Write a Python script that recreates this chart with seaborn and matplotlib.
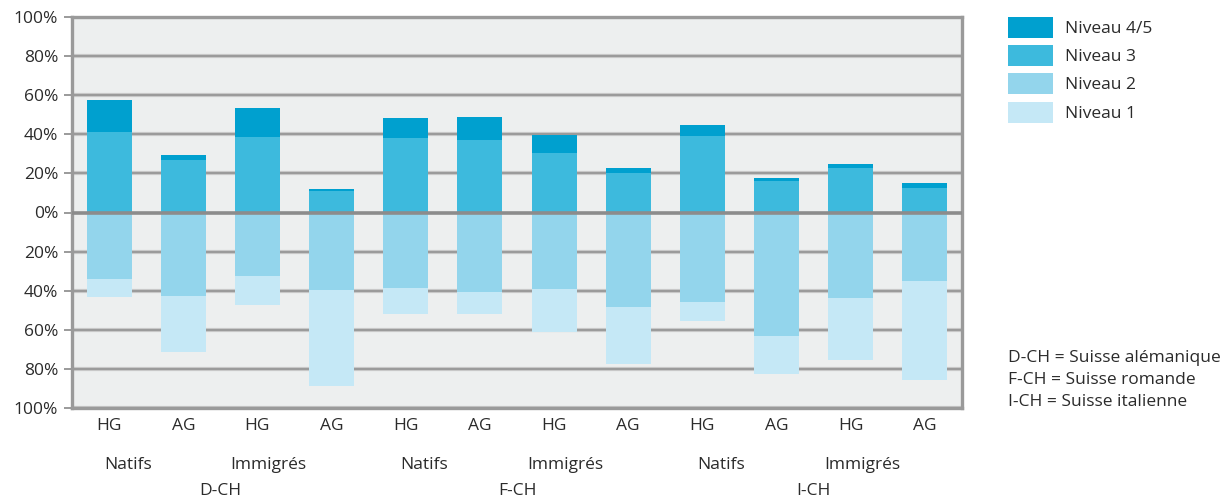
import matplotlib
matplotlib.use("Agg")
import matplotlib.pyplot as plt
from matplotlib.patches import Patch
import seaborn as sns
import pandas as pd
import numpy as np

# Share of each literacy level (%), per region / origin / school type
bar_labels = ["HG", "AG", "HG", "AG", "HG", "AG", "HG", "AG", "HG", "AG", "HG", "AG"]
origins = ["Natifs", "Immigrés"]
regions = ["D-CH", "F-CH", "I-CH"]

niveau_45 = [16.4, 2.5, 14.8, 1.0, 10.3, 11.8, 9.2, 2.6, 5.6, 2.0, 2.0, 2.6]
niveau_3 = [41.0, 26.7, 38.5, 10.8, 37.9, 36.9, 30.3, 20.0, 39.0, 15.9, 22.6, 12.3]
niveau_2 = [33.8, 42.6, 32.3, 39.5, 38.5, 40.5, 39.0, 48.2, 45.6, 63.1, 43.6, 34.9]
niveau_1 = [9.3, 28.5, 14.9, 49.2, 13.3, 11.3, 22.0, 29.2, 9.8, 19.5, 31.8, 50.7]

legend_labels = ["Niveau 4/5", "Niveau 3", "Niveau 2", "Niveau 1"]
colors = {"Niveau 4/5": "#00a0cf", "Niveau 3": "#3dbadd",
          "Niveau 2": "#93d5ec", "Niveau 1": "#c5e8f6"}
notes = ["D-CH = Suisse alémanique", "F-CH = Suisse romande", "I-CH = Suisse italienne"]

plt.rcParams["font.family"] = ["Open Sans", "DejaVu Sans"]
text_color = "#2b2b2b"
grid_color = "#9a9a9a"
fs = 12.5

pos = [str(i) for i in range(len(bar_labels))]
df = pd.DataFrame({
    "pos": pos,
    "up_total": np.array(niveau_3) + np.array(niveau_45),
    "up_3": niveau_3,
    "down_total": -(np.array(niveau_2) + np.array(niveau_1)),
    "down_2": [-v for v in niveau_2],
})

fig = plt.figure(figsize=(12.23, 5.0), dpi=100)
ax = fig.add_axes([72 / 1223, 92 / 500, 890 / 1223, 391 / 500])
ax.set_facecolor("#edefef")

bar_w = 0.607
layers = [("up_total", "Niveau 4/5"), ("up_3", "Niveau 3"),
          ("down_total", "Niveau 1"), ("down_2", "Niveau 2")]
for col, lvl in layers:
    sns.barplot(data=df, x="pos", y=col, order=pos, color=colors[lvl],
                saturation=1, width=bar_w, ax=ax, zorder=3, errorbar=None)

ax.set_ylim(-100, 100)
ax.set_xlim(-0.5, len(pos) - 0.5)
yt = np.arange(-100, 101, 20)
ax.set_yticks(yt)
ax.set_yticklabels([f"{abs(v)}%" for v in yt], fontsize=fs, color=text_color)
for v in yt:
    if v == 0:
        ax.axhline(v, color="#8c8c8c", lw=2.6, zorder=4)
    else:
        ax.axhline(v, color="#c8c8c8", lw=3.0, zorder=1)
        ax.axhline(v, color=grid_color, lw=1.4, zorder=2)
ax.tick_params(axis="y", length=6, width=1.4, color=grid_color, pad=4)
ax.set_xticks(range(len(pos)))
ax.set_xticklabels(bar_labels, fontsize=fs, color=text_color)
ax.tick_params(axis="x", length=0, pad=7)
ax.set_xlabel("")
ax.set_ylabel("")
for side in ["left", "right", "bottom", "top"]:
    ax.spines[side].set_color(grid_color)
    ax.spines[side].set_linewidth(2.4)

# Origin and region labels beneath the school types
for g, reg in enumerate(regions):
    base = g * 4
    ax.text(base + 0.25, -129, origins[0], ha="center", va="center",
            fontsize=fs, color=text_color, clip_on=False)
    ax.text(base + 2.15, -129, origins[1], ha="center", va="center",
            fontsize=fs, color=text_color, clip_on=False)
    ax.text(base + 1.5, -142.3, reg, ha="center", va="center",
            fontsize=fs, color=text_color, clip_on=False)

handles = [Patch(facecolor=colors[l], edgecolor="none", label=l) for l in legend_labels]
fig.legend(handles=handles, loc="upper left", bbox_to_anchor=(992 / 1223, 1 - 1 / 500),
           frameon=False, fontsize=fs, handlelength=2.59, handleheight=1.485,
           labelspacing=0.42, handletextpad=0.7, labelcolor=text_color,
           borderpad=0.4)

for i, line in enumerate(notes):
    fig.text(1008 / 1223, 1 - (358 + 22 * i) / 500, line, ha="left", va="center",
             fontsize=fs, color=text_color)

fig.savefig("out.png", dpi=100)
